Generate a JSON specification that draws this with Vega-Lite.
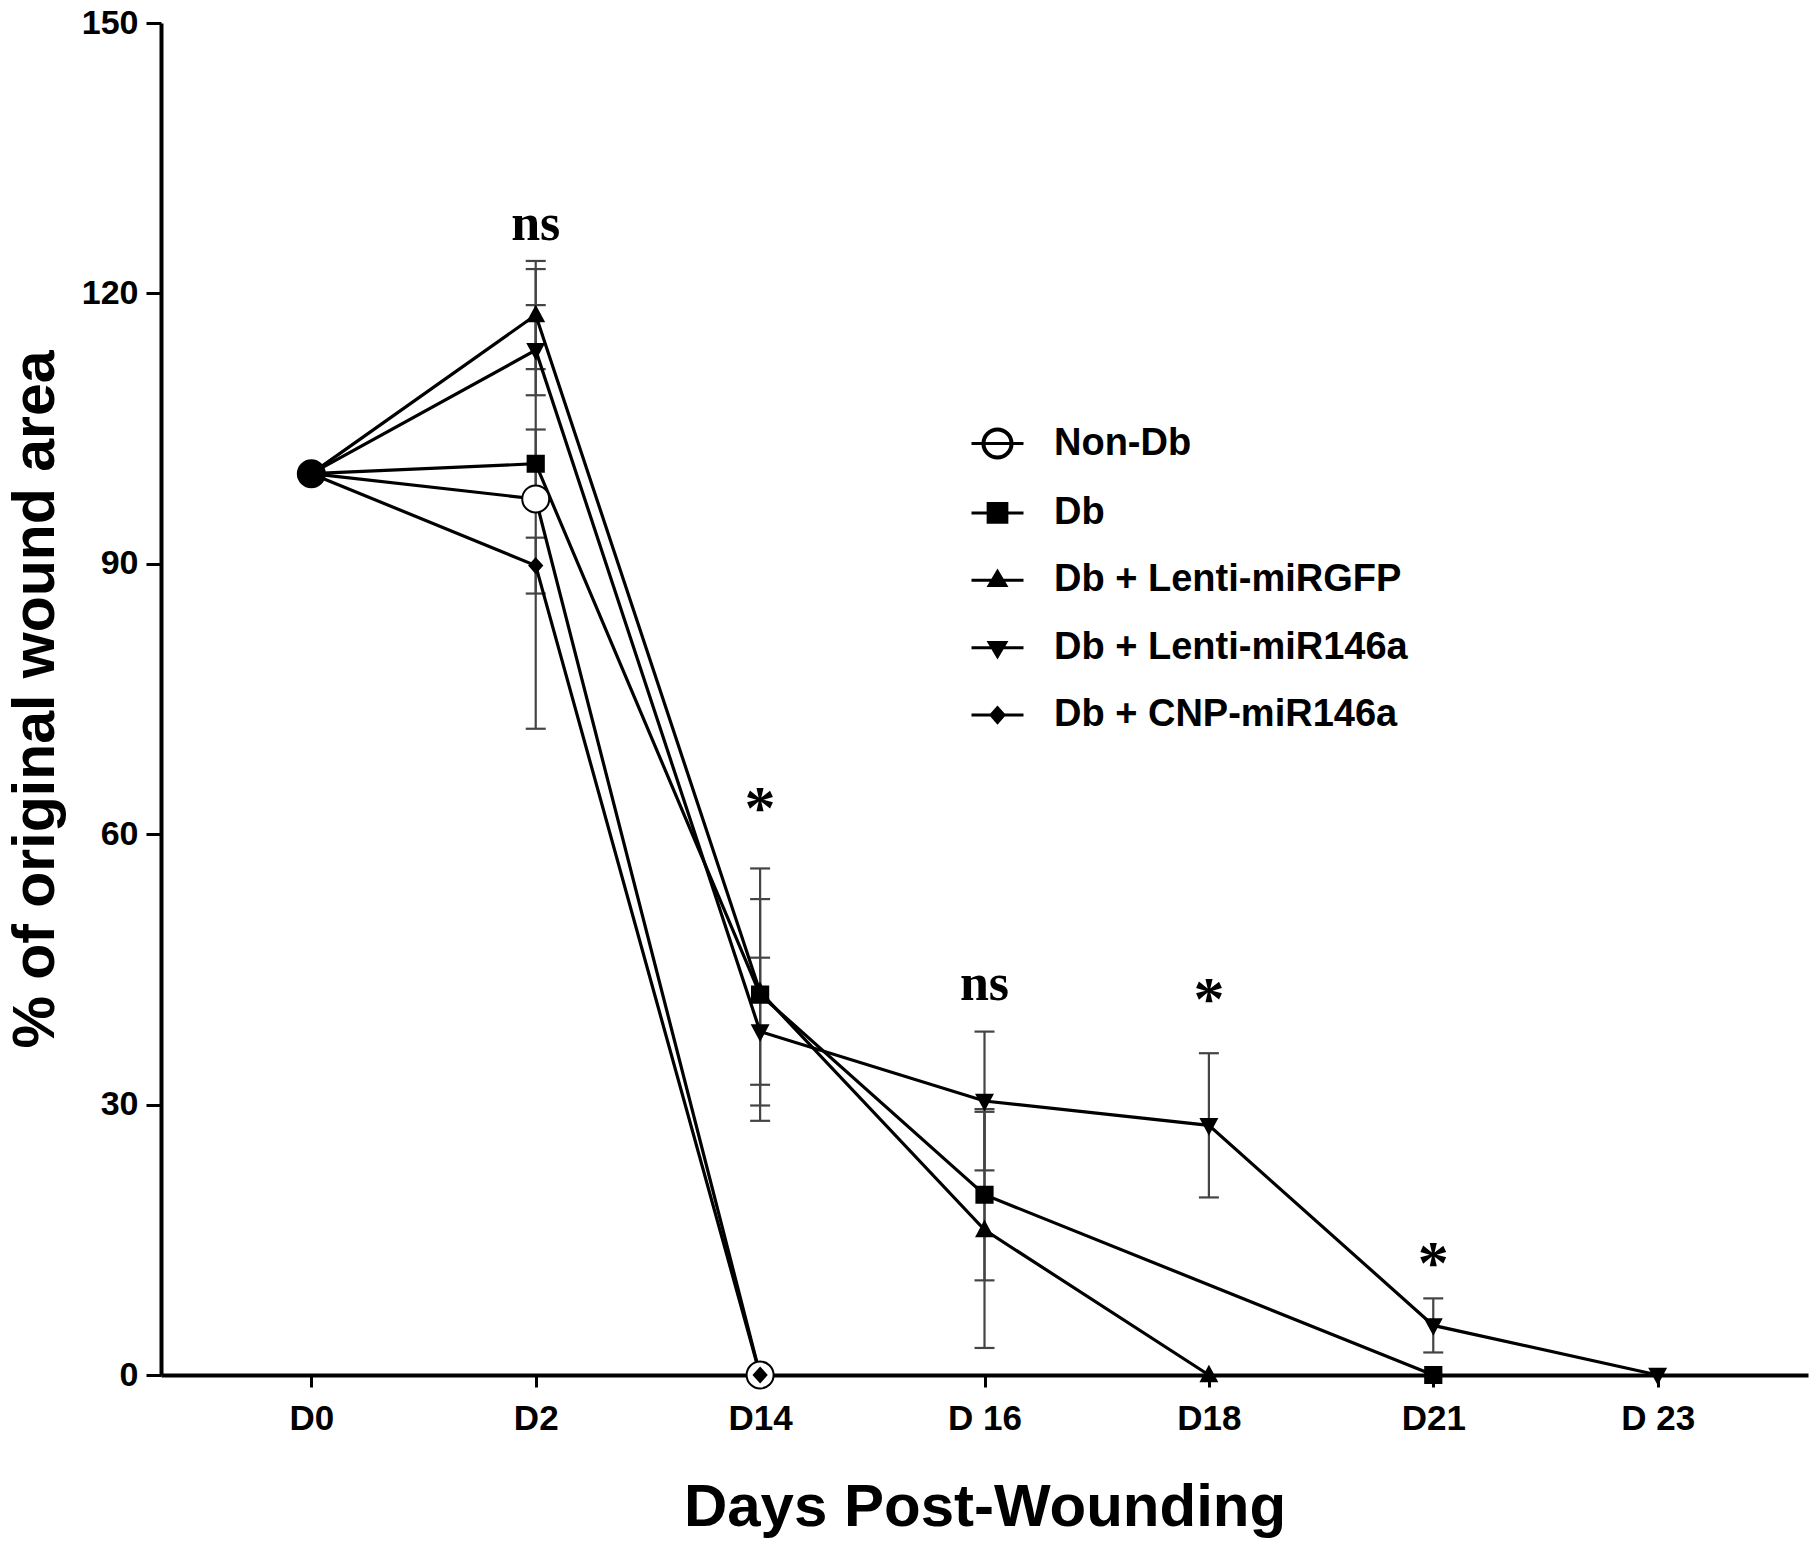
{
  "$schema": "https://vega.github.io/schema/vega-lite/v6.json",
  "width": 1647,
  "height": 1352,
  "autosize": {"type": "none"},
  "padding": {"left": 161, "top": 23, "right": 11, "bottom": 182},
  "background": "white",
  "config": {"view": {"stroke": null}, "axis": {"grid": false}},
  "datasets": {
    "main": [
      {"group": "Non-Db", "day": "D0", "d": 0, "value": 100},
      {"group": "Non-Db", "day": "D2", "d": 2, "value": 97.2, "err": 25.5},
      {"group": "Non-Db", "day": "D14", "d": 14, "value": 0},
      {"group": "Db", "day": "D0", "d": 0, "value": 100},
      {"group": "Db", "day": "D2", "d": 2, "value": 101.1, "err": 3.8},
      {"group": "Db", "day": "D14", "d": 14, "value": 42.2, "err": 14.0},
      {"group": "Db", "day": "D 16", "d": 16, "value": 20.0, "err": 9.5},
      {"group": "Db", "day": "D21", "d": 21, "value": 0},
      {"group": "Db + Lenti-miRGFP", "day": "D0", "d": 0, "value": 100},
      {"group": "Db + Lenti-miRGFP", "day": "D2", "d": 2, "value": 117.6, "err": 6.0},
      {"group": "Db + Lenti-miRGFP", "day": "D14", "d": 14, "value": 42.5, "err": 10.3},
      {"group": "Db + Lenti-miRGFP", "day": "D 16", "d": 16, "value": 16.1, "err": 13.1},
      {"group": "Db + Lenti-miRGFP", "day": "D18", "d": 18, "value": 0},
      {"group": "Db + Lenti-miR146a", "day": "D0", "d": 0, "value": 100},
      {"group": "Db + Lenti-miR146a", "day": "D2", "d": 2, "value": 113.7, "err": 5.0},
      {"group": "Db + Lenti-miR146a", "day": "D14", "d": 14, "value": 38.1, "err": 8.2},
      {"group": "Db + Lenti-miR146a", "day": "D 16", "d": 16, "value": 30.4, "err": 7.7},
      {"group": "Db + Lenti-miR146a", "day": "D18", "d": 18, "value": 27.7, "err": 8.0},
      {"group": "Db + Lenti-miR146a", "day": "D21", "d": 21, "value": 5.5, "err": 3.0},
      {"group": "Db + Lenti-miR146a", "day": "D 23", "d": 23, "value": 0},
      {"group": "Db + CNP-miR146a", "day": "D0", "d": 0, "value": 100},
      {"group": "Db + CNP-miR146a", "day": "D2", "d": 2, "value": 89.8, "err": 3.1},
      {"group": "Db + CNP-miR146a", "day": "D14", "d": 14, "value": 0}
    ],
    "notes": [
      {"day": "D2", "value": 125.9, "label": "ns"},
      {"day": "D14", "value": 60.7, "label": "*"},
      {"day": "D 16", "value": 41.6, "label": "ns"},
      {"day": "D18", "value": 39.5, "label": "*"},
      {"day": "D21", "value": 10.2, "label": "*"}
    ]
  },
  "encoding": {
    "x": {
      "field": "day",
      "type": "ordinal",
      "scale": {"type": "point", "padding": 0.67, "domain": ["D0", "D2", "D14", "D 16", "D18", "D21", "D 23"]},
      "axis": {
        "title": "Days Post-Wounding",
        "titleFont": "Liberation Sans",
        "titleFontSize": 60,
        "titleFontWeight": "bold",
        "titleColor": "black",
        "titlePadding": 42,
        "labelFont": "Liberation Sans",
        "labelFontSize": 35,
        "labelFontWeight": "bold",
        "labelColor": "black",
        "labelAngle": 0,
        "labelPadding": 14,
        "tickSize": 12,
        "tickWidth": 3,
        "tickColor": "black",
        "domainColor": "black",
        "domainWidth": 4
      }
    },
    "y": {
      "field": "value",
      "type": "quantitative",
      "scale": {"domain": [0, 150], "nice": false, "zero": false},
      "axis": {
        "title": "% of original wound area",
        "titleFont": "Liberation Sans",
        "titleFontSize": 59,
        "titleFontWeight": "bold",
        "titleColor": "black",
        "titlePadding": 16,
        "labelFont": "Liberation Sans",
        "labelFontSize": 34,
        "labelFontWeight": "bold",
        "labelColor": "black",
        "labelPadding": 8,
        "tickSize": 15,
        "tickWidth": 3,
        "tickColor": "black",
        "domainColor": "black",
        "domainWidth": 4,
        "values": [0, 30, 60, 90, 120, 150]
      }
    }
  },
  "layer": [
    {
      "data": {"name": "main"},
      "transform": [{"filter": "isValid(datum.err)"}],
      "mark": {
        "type": "errorbar",
        "ticks": {"size": 20, "thickness": 2.2, "color": "#444444", "opacity": 1},
        "rule": {"strokeWidth": 2.2, "color": "#444444"}
      },
      "encoding": {"yError": {"field": "err"}}
    },
    {
      "data": {"name": "main"},
      "mark": {"type": "line", "color": "black", "strokeWidth": 3.2},
      "encoding": {
        "detail": {"field": "group", "type": "nominal"},
        "order": {"field": "d", "type": "quantitative"},
        "opacity": {
          "field": "group",
          "type": "ordinal",
          "scale": {
            "domain": ["Non-Db", "Db", "Db + Lenti-miRGFP", "Db + Lenti-miR146a", "Db + CNP-miR146a"],
            "range": [1, 1]
          },
          "legend": {
            "title": null,
            "orient": "none",
            "legendX": 809,
            "legendY": 393,
            "padding": 0,
            "symbolSize": 2704,
            "symbolStrokeWidth": 3,
            "symbolStrokeColor": "black",
            "symbolFillColor": "black",
            "labelFont": "Liberation Sans",
            "labelFontSize": 38,
            "labelFontWeight": "bold",
            "labelColor": "black",
            "labelOffset": 29,
            "labelLimit": 0,
            "rowPadding": 20.4,
            "encode": {
              "symbols": {
                "update": {
                  "shape": {"signal": "datum.value === 'Non-Db' ? 'M-1,0H1M-0.56,0A0.56,0.56,0,1,1,0.56,0A0.56,0.56,0,1,1,-0.56,0ZM-0.52,0A0.52,0.52,0,1,0,0.52,0A0.52,0.52,0,1,0,-0.52,0Z' : datum.value === 'Db' ? 'M-1,0H1M-0.36,-0.36H0.36V0.36H-0.36Z' : datum.value === 'Db + Lenti-miRGFP' ? 'M-1,0H1M0,-0.34L0.32,0.2L-0.32,0.2Z' : datum.value === 'Db + Lenti-miR146a' ? 'M-1,0H1M0,0.34L0.32,-0.2L-0.32,-0.2Z' : 'M-1,0H1M0,-0.28L0.25,0L0,0.28L-0.25,0Z'"},
                  "size": {"value": 2704},
                  "fill": {"value": "black"},
                  "stroke": {"value": "black"},
                  "strokeWidth": {"value": 3}
                }
              }
            }
          }
        }
      }
    },
    {
      "data": {"name": "main"},
      "mark": {"type": "point", "filled": true, "opacity": 1, "size": 900, "stroke": "black", "strokeWidth": 2},
      "encoding": {
        "shape": {
          "condition": [
            {"test": "datum.group === 'Non-Db'", "value": "M-0.9,0A0.9,0.9,0,1,1,0.9,0A0.9,0.9,0,1,1,-0.9,0Z"},
            {"test": "datum.group === 'Db'", "value": "M-0.54,-0.54H0.54V0.54H-0.54Z"},
            {"test": "datum.group === 'Db + Lenti-miRGFP'", "value": "M0,-0.55L0.52,0.42L-0.52,0.42Z"},
            {"test": "datum.group === 'Db + Lenti-miR146a'", "value": "M0,0.55L0.52,-0.42L-0.52,-0.42Z"}
          ],
          "value": "M0,-0.47L0.42,0L0,0.47L-0.42,0Z"
        },
        "fill": {"condition": {"test": "datum.group === 'Non-Db' && datum.d > 0", "value": "white"}, "value": "black"}
      }
    },
    {
      "data": {"name": "notes"},
      "mark": {"type": "text", "font": "Liberation Serif", "fontWeight": "bold", "baseline": "alphabetic", "align": "center", "color": "black"},
      "encoding": {
        "text": {"field": "label", "type": "nominal"},
        "size": {"condition": {"test": "datum.label === '*'", "value": 62}, "value": 52}
      }
    }
  ]
}
